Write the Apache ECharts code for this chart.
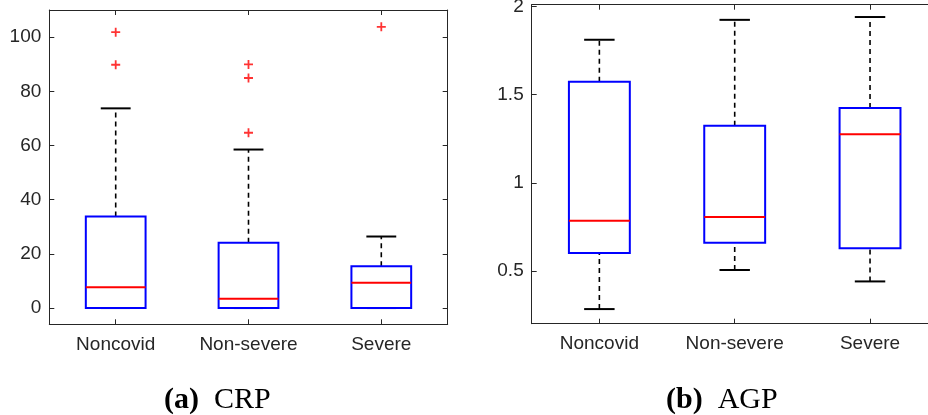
<!DOCTYPE html>
<html>
<head>
<meta charset="utf-8">
<script src="https://cdn.jsdelivr.net/npm/echarts@6/dist/echarts.min.js"></script>
<style>
html,body{margin:0;padding:0;background:#fff;}
#chart{width:928px;height:415px;}
</style>
</head>
<body>
<div id="chart"></div>
<script>
// ---- data ----
const categories = ['Noncovid', 'Non-severe', 'Severe'];
// [lower whisker, Q1, median, Q3, upper whisker]
const crpStats = [
  [0, 0, 7.7, 33.8, 73.7],
  [0, 0, 3.4, 24.1, 58.5],
  [0, 0, 9.3, 15.4, 26.4]
];
// [category index, value]
const crpOutliers = [
  [0, 101.8], [0, 89.8],
  [1, 89.9], [1, 84.9], [1, 64.7],
  [2, 103.8]
];
const agpStats = [
  [0.283, 0.602, 0.784, 1.573, 1.812],
  [0.505, 0.659, 0.806, 1.324, 1.925],
  [0.440, 0.628, 1.275, 1.425, 1.941]
];
const agpOutliers = [];
const crpTicks = [0, 20, 40, 60, 80, 100];
const agpTicks = [0.5, 1, 1.5, 2];
const captionA = ['(a)', 'CRP'];
const captionB = ['(b)', 'AGP'];

// ---- styling ----
const axisColor = '#262626';
const sansFont = 'Liberation Sans';
const serifFont = 'Liberation Serif';

function renderBox(params, api) {
  const c = api.value(0);
  const pLow = api.coord([c, api.value(1)]);
  const pQ1 = api.coord([c, api.value(2)]);
  const pMed = api.coord([c, api.value(3)]);
  const pQ3 = api.coord([c, api.value(4)]);
  const pHigh = api.coord([c, api.value(5)]);
  const band = api.size([1, 0])[0];
  const boxW = band * 0.45;
  const capW = band * 0.225;
  const cx = pMed[0];
  const whisk = { stroke: '#000', lineWidth: 1.6, lineDash: [5, 4] };
  const cap = { stroke: '#000', lineWidth: 2 };
  return {
    type: 'group',
    children: [
      { type: 'line', shape: { x1: cx, y1: pQ3[1], x2: cx, y2: pHigh[1] }, style: whisk },
      { type: 'line', shape: { x1: cx, y1: pLow[1], x2: cx, y2: pQ1[1] }, style: whisk },
      { type: 'line', shape: { x1: cx - capW / 2, y1: pHigh[1], x2: cx + capW / 2, y2: pHigh[1] }, style: cap },
      { type: 'line', shape: { x1: cx - capW / 2, y1: pLow[1], x2: cx + capW / 2, y2: pLow[1] }, style: cap },
      { type: 'rect', shape: { x: cx - boxW / 2, y: pQ3[1], width: boxW, height: pQ1[1] - pQ3[1] },
        style: { fill: 'none', stroke: '#0000ff', lineWidth: 2 } },
      { type: 'line', shape: { x1: cx - boxW / 2, y1: pMed[1], x2: cx + boxW / 2, y2: pMed[1] },
        style: { stroke: '#ff0000', lineWidth: 2 } }
    ]
  };
}

const plusPath = 'path://M4,0H6V4H10V6H6V10H4V6H0V4H4Z';

function xAxes(gi) {
  const base = {
    gridIndex: gi, type: 'category', data: categories,
    axisLine: { show: true, onZero: false, lineStyle: { color: axisColor, width: 1 } },
    axisTick: { show: true, inside: true, alignWithLabel: true, length: 5, lineStyle: { color: axisColor } },
    splitLine: { show: false }
  };
  return [
    Object.assign({}, base, { position: 'bottom',
      axisLabel: { show: true, margin: 11, fontFamily: sansFont, fontSize: 19, color: axisColor } }),
    Object.assign({}, base, { position: 'top', axisLabel: { show: false } })
  ];
}
function yAxes(gi, min, max, ticks) {
  const base = {
    gridIndex: gi, type: 'value', min: min, max: max,
    axisLine: { show: true, onZero: false, lineStyle: { color: axisColor, width: 1 } },
    axisTick: { show: true, inside: true, length: 5, customValues: ticks, lineStyle: { color: axisColor } },
    splitLine: { show: false }
  };
  return [
    Object.assign({}, base, { position: 'left',
      axisLabel: { show: true, margin: 8, customValues: ticks, fontFamily: sansFont, fontSize: 19, color: axisColor } }),
    Object.assign({}, base, { position: 'right', axisLabel: { show: false } })
  ];
}

function caption(parts, left) {
  return {
    text: '{b|' + parts[0] + '}  ' + parts[1],
    left: left, top: 380,
    textStyle: {
      fontFamily: serifFont, fontSize: 30, fontWeight: 'normal', color: '#000',
      rich: { b: { fontFamily: serifFont, fontSize: 30, fontWeight: 'bold', color: '#000' } }
    }
  };
}

const chart = echarts.init(document.getElementById('chart'), null, { renderer: 'canvas' });
chart.setOption({
  animation: false,
  backgroundColor: '#fff',
  title: [caption(captionA, 159), caption(captionB, 661)],
  grid: [
    { left: 49.3, top: 10, width: 398.4, height: 314.3, outerBoundsMode: 'none', containLabel: false },
    { left: 531.7, top: 4.7, width: 406, height: 319, outerBoundsMode: 'none', containLabel: false }
  ],
  xAxis: xAxes(0).concat(xAxes(1)),
  yAxis: yAxes(0, -6, 110, crpTicks).concat(yAxes(1, 0.2, 2.011, agpTicks)),
  series: [
    { type: 'custom', xAxisIndex: 0, yAxisIndex: 0, renderItem: renderBox,
      encode: { x: 0, y: [1, 2, 3, 4, 5] },
      data: crpStats.map((s, i) => [i].concat(s)) },
    { type: 'scatter', xAxisIndex: 0, yAxisIndex: 0, symbol: plusPath, symbolSize: 9,
      itemStyle: { color: '#ff0000' }, data: crpOutliers },
    { type: 'custom', xAxisIndex: 2, yAxisIndex: 2, renderItem: renderBox,
      encode: { x: 0, y: [1, 2, 3, 4, 5] },
      data: agpStats.map((s, i) => [i].concat(s)) },
    { type: 'scatter', xAxisIndex: 2, yAxisIndex: 2, symbol: plusPath, symbolSize: 9,
      itemStyle: { color: '#ff0000' }, data: agpOutliers }
  ]
});
</script>
</body>
</html>
